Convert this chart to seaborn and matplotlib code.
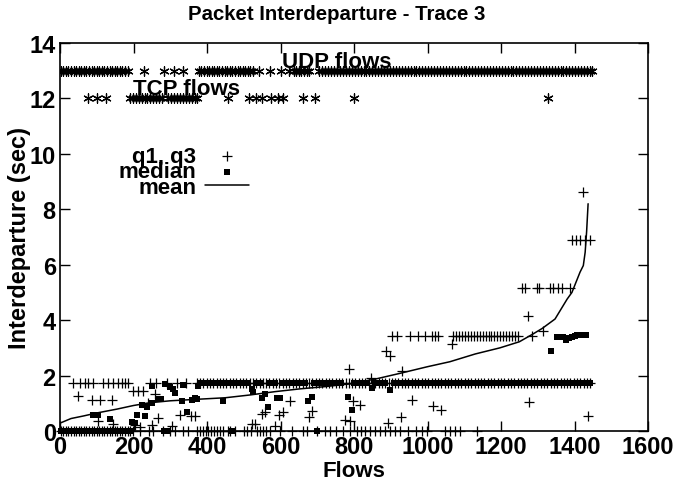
import matplotlib
matplotlib.use("Agg")
import matplotlib.pyplot as plt
import seaborn as sns
import pandas as pd

# ---------------- data ----------------
udp_x = [2, 9, 16, 23, 30, 37, 44, 51, 58, 65, 72, 79, 86, 93, 100, 107, 114, 121, 128, 135,
         142, 149, 156, 163, 170, 177, 184,
         229, 282, 311, 335,
         378, 385, 392, 399, 406, 413, 420, 427, 434, 441, 448, 455, 462, 469, 476, 483, 490,
         497, 504, 511, 518, 525,
         541, 571, 600, 624,
         636, 643, 650, 657, 664, 671, 678, 706,
         714, 722, 730, 738, 746, 754, 762, 770, 778, 786, 794, 802, 810, 818, 826, 834, 842,
         850, 858, 866, 874, 882, 890, 898, 906, 914, 922, 930, 938, 946, 954, 962, 970, 978,
         986, 994, 1002, 1010, 1018, 1026, 1034, 1042, 1050, 1058, 1066, 1074, 1082, 1090,
         1098, 1106, 1114, 1122, 1130, 1138, 1146, 1154, 1162, 1170, 1178, 1186, 1194, 1202,
         1210, 1218, 1226, 1234, 1242, 1250, 1258, 1266, 1274, 1282, 1290, 1298, 1306, 1314,
         1322, 1330, 1338, 1346, 1354, 1362, 1370, 1378, 1386, 1394, 1402, 1410, 1418, 1426,
         1434, 1442, 1447]
udp_level = 13

tcp_x = [75, 100, 125, 190, 198, 206, 214, 222, 230, 238, 246, 254, 262, 270, 278, 294, 302,
         310, 318, 326, 334, 342, 350, 358, 366, 374, 457, 515, 532, 550, 575, 592, 608,
         660, 695, 800, 1329]
tcp_level = 12

# q1 / q3 markers ("+")
q_zero_x = [2, 9, 16, 23, 30, 37, 44, 51, 58, 65, 72, 79, 86, 93, 100, 107, 114, 121, 128,
            135, 142, 149, 156, 163, 170, 177, 184, 191, 198, 218, 241, 254, 281, 300, 313,
            336, 349, 372, 380, 388, 396, 404, 412, 420, 428, 436, 444, 456, 463, 475, 500,
            508, 520, 537, 544, 552, 560, 571, 599, 630, 660, 671, 700, 720, 735, 750, 771,
            790, 807, 820, 830, 843, 857, 870, 884, 898, 911, 925, 948, 970, 984, 998, 1048,
            1061, 1075, 1089, 1134]
q_band_x = [36, 54, 68, 77, 91, 118, 131, 145, 159, 168, 177, 186, 245, 262, 290, 318, 342,
            372, 381, 390, 399, 408, 417, 426, 435, 444, 453, 462, 471, 480, 489, 498, 507,
            516, 525, 534, 543, 552, 561, 570, 579, 588, 597, 606, 615, 624, 633, 642, 651,
            660, 669, 678, 687, 696, 705, 714, 723, 732, 741, 750, 759, 768, 777, 786, 795,
            804, 813, 822, 831, 840, 849, 858, 867, 876, 885, 894, 903, 912, 921, 930, 939,
            948, 957, 966, 975, 984, 993, 1002, 1011, 1020, 1029, 1038, 1047, 1056, 1065,
            1074, 1083, 1092, 1101, 1110, 1119, 1128, 1137, 1146, 1155, 1164, 1173, 1182,
            1191, 1200, 1209, 1218, 1227, 1236, 1245, 1254, 1263, 1272, 1281, 1290, 1299,
            1308, 1317, 1326, 1335, 1344, 1353, 1362, 1371, 1380, 1389, 1398, 1407, 1416,
            1425, 1434, 1442]
q_band_level = 1.72
q_high_x = [903, 916, 952, 975, 993, 1011, 1020, 1029, 1070, 1078, 1086, 1094, 1102, 1110,
            1118, 1126, 1134, 1142, 1150, 1158, 1166, 1174, 1182, 1190, 1198, 1206, 1214,
            1222, 1230, 1238, 1245, 1283]
q_high_level = 3.43
q_top_x = [1256, 1265, 1297, 1304, 1333, 1342, 1354, 1366, 1388]
q_top_level = 5.16
q_peak_x = [1392, 1403, 1414, 1428, 1442]
q_peak_level = 6.9
q_other_x = [1424, 1274, 1315, 1066, 886, 898, 786, 930, 846, 1276, 1436, 957, 1016, 1037,
             928, 893, 816, 797, 775, 790, 626, 558, 550, 606, 596, 686, 678, 522, 530, 585,
             367, 357, 327, 304, 267, 259, 240, 250, 218, 204, 145, 104, 48, 86, 109, 141,
             199, 212, 226]
q_other_y = [8.64, 4.16, 3.62, 3.14, 2.9, 2.72, 2.24, 2.18, 1.91, 1.03, 0.53, 1.13, 0.91,
             0.76, 0.5, 0.29, 0.94, 1.1, 0.41, 0.35, 1.1, 0.68, 0.6, 0.68, 0.57, 0.73, 0.52,
             0.25, 0.25, 0.19, 0.54, 0.54, 0.58, 0.19, 0.47, 1.34, 1.0, 0.2, 0.14, 0.22, 0.25,
             0.37, 1.27, 1.12, 1.12, 1.12, 1.45, 1.45, 1.45]

# medians (filled squares)
med_zero_x = [3, 10, 17, 24, 31, 38, 45, 52, 59, 66, 73, 80, 87, 94, 101, 108, 115, 122, 129,
              136, 143, 150, 157, 164, 171, 178, 185, 190, 282, 290, 467, 700]
med_band_x = [380, 392, 404, 416, 428, 440, 452, 464, 476, 488, 500, 512, 536, 548, 572, 584,
              608, 620, 632, 644, 656, 668, 692, 704, 716, 728, 740, 752, 764, 800, 812, 824,
              836, 860, 872, 884, 910, 922, 934, 946, 958, 970, 982, 994, 1006, 1018, 1030,
              1042, 1054, 1066, 1078, 1090, 1102, 1114, 1126, 1138, 1150, 1162, 1174, 1186,
              1198, 1210, 1222, 1234, 1246, 1258, 1270, 1282, 1294, 1306, 1318, 1330, 1342,
              1354, 1366, 1378, 1390, 1402, 1414, 1426, 1438, 1442]
med_band_level = 1.72
med_high_x = [1353, 1360, 1368, 1376, 1384, 1392, 1400, 1408, 1416, 1424, 1430]
med_high_y = [3.4, 3.38, 3.4, 3.3, 3.36, 3.4, 3.42, 3.45, 3.45, 3.45, 3.45]
med_other_x = [91, 104, 136, 197, 204, 209, 222, 231, 236, 250, 267, 275, 250, 286, 299, 308,
               313, 336, 331, 345, 358, 367, 376, 372, 444, 522, 526, 549, 558, 566, 590, 599,
               675, 686, 785, 795, 848, 898, 1336]
med_other_y = [0.58, 0.58, 0.43, 0.32, 0.29, 0.58, 0.94, 0.55, 0.87, 1.01, 1.15, 1.16, 1.64,
               1.7, 1.6, 1.5, 1.36, 1.66, 1.1, 0.7, 1.13, 1.2, 1.64, 1.15, 1.1, 1.5, 1.4, 1.18,
               1.33, 0.87, 1.2, 1.18, 1.1, 1.22, 1.22, 0.76, 1.55, 1.49, 2.9]

# mean curve
mean_x = [3, 30, 63, 100, 155, 200, 245, 300, 381, 450, 517, 585, 653, 720, 789, 860, 925,
          1000, 1061, 1130, 1197, 1250, 1287, 1312, 1347, 1380, 1393, 1415, 1424, 1429, 1433,
          1437]
mean_y = [0.3, 0.45, 0.54, 0.65, 0.79, 0.92, 1.02, 1.09, 1.15, 1.2, 1.3, 1.42, 1.52, 1.6,
          1.7, 1.88, 2.08, 2.32, 2.5, 2.78, 3.0, 3.22, 3.5, 3.7, 4.04, 4.76, 5.0, 5.73, 5.97,
          6.45, 7.2, 8.2]

x_ticks = [0, 200, 400, 600, 800, 1000, 1200, 1400, 1600]
y_ticks = [0, 2, 4, 6, 8, 10, 12, 14]

# ---------------- build tables ----------------
q_x = q_zero_x + q_band_x + q_high_x + q_top_x + q_peak_x + q_other_x
q_y = ([0.0] * len(q_zero_x) + [q_band_level] * len(q_band_x) +
       [q_high_level] * len(q_high_x) + [q_top_level] * len(q_top_x) +
       [q_peak_level] * len(q_peak_x) + q_other_y)
q_df = pd.DataFrame({"flow": q_x, "val": q_y})

m_x = med_zero_x + med_band_x + med_high_x + med_other_x
m_y = ([0.0] * len(med_zero_x) + [med_band_level] * len(med_band_x) + med_high_y + med_other_y)
m_df = pd.DataFrame({"flow": m_x, "val": m_y})

mean_df = pd.DataFrame({"flow": mean_x, "val": mean_y})
udp_df = pd.DataFrame({"flow": udp_x, "val": [udp_level] * len(udp_x)})
tcp_df = pd.DataFrame({"flow": tcp_x, "val": [tcp_level] * len(tcp_x)})

# ---------------- style ----------------
sns.set_style("ticks")
plt.rcParams["font.family"] = ["Liberation Sans", "DejaVu Sans"]
plt.rcParams["font.weight"] = "bold"
plt.rcParams["axes.labelweight"] = "bold"
for key in ["text.color", "axes.labelcolor", "xtick.color", "ytick.color",
            "axes.edgecolor"]:
    plt.rcParams[key] = "black"

fig = plt.figure(figsize=(6.74, 4.81), dpi=100)
ax = fig.add_axes([60 / 674, 49 / 481, 588 / 674, 388 / 481])

star = (6, 2, 0)
sns.scatterplot(data=udp_df, x="flow", y="val", marker=star, s=45, color="black",
                linewidth=0.9, ax=ax, legend=False)
sns.scatterplot(data=tcp_df, x="flow", y="val", marker=star, s=45, color="black",
                linewidth=0.9, ax=ax, legend=False)
sns.scatterplot(data=q_df, x="flow", y="val", marker="+", s=55, color="black",
                linewidth=0.9, ax=ax, label="q1, q3", clip_on=False)
sns.scatterplot(data=m_df, x="flow", y="val", marker="s", s=22, color="black",
                linewidth=0, ax=ax, label="median", clip_on=False)
sns.lineplot(data=mean_df, x="flow", y="val", color="black", linewidth=1.1, ax=ax,
             label="mean")

ax.set_xlim(0, 1600)
ax.set_ylim(0, 14)
ax.set_xticks(x_ticks)
ax.set_yticks(y_ticks)
ax.set_xticklabels([str(t) for t in x_ticks], fontsize=17, fontweight="bold")
ax.set_yticklabels([str(t) for t in y_ticks], fontsize=17, fontweight="bold")
ax.tick_params(direction="in", length=7, width=1, top=True, right=True, pad=3,
               colors="black")
for sp in ax.spines.values():
    sp.set_linewidth(1.2)
    sp.set_color("black")

ax.set_xlabel("Flows", fontsize=16, fontweight="bold")
ax.xaxis.set_label_coords(0.5, -0.075)
ax.set_ylabel("Interdeparture (sec)", fontsize=17, fontweight="bold")
ax.yaxis.set_label_coords(-0.05, 0.5)

fig.text(337 / 674, 1 - 15 / 481, "Packet Interdeparture - Trace 3", ha="center",
         va="center", fontsize=14.7, fontweight="bold")

ax.text(604, 13.12, "UDP flows", fontsize=16, fontweight="bold", va="baseline")
ax.text(199, 12.15, "TCP flows", fontsize=16, fontweight="bold", va="baseline")

leg = ax.legend(loc="upper right", bbox_to_anchor=(0.321, 0.735), frameon=False,
                markerfirst=False, handlelength=1.95, handletextpad=0.42,
                labelspacing=-0.24, borderpad=0, borderaxespad=0,
                prop={"size": 16, "weight": "bold"})
for t in leg.get_texts():
    t.set_color("black")

fig.savefig("out.png", dpi=100)
